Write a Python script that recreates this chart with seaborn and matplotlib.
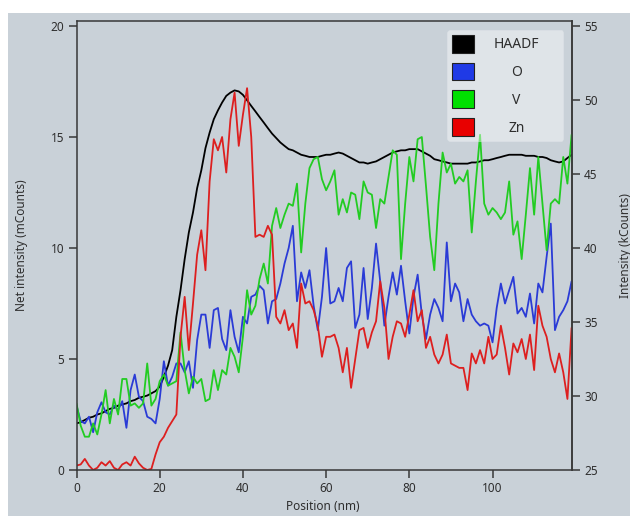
import numpy as np
import pandas as pd
import matplotlib
matplotlib.use("Agg")
import matplotlib.pyplot as plt
from matplotlib.patches import Patch, Rectangle
import seaborn as sns

# ---------------- data ----------------
position_nm = list(range(0, 120))

o_counts = [2.9, 2.2, 2.1, 2.4, 1.7, 2.6, 3.05, 2.6, 2.5, 2.9,
            2.7, 3.1, 1.9, 3.6, 4.3, 3.3, 3.1, 2.4, 2.3, 2.1,
            3.2, 4.9, 3.8, 4.2, 4.8, 4.8, 4.4, 4.9, 3.7, 5.85,
            7.0, 7.0, 5.5, 7.2, 7.3, 5.9, 5.4, 7.2, 6.0, 5.3,
            6.9, 6.6, 7.8, 7.9, 8.3, 8.1, 6.6, 7.6, 7.7, 8.4,
            9.3, 10.0, 11.0, 7.6, 8.9, 8.2, 9.0, 7.4, 6.3, 7.8,
            10.0, 7.5, 7.6, 8.2, 7.6, 9.1, 9.4, 6.4, 7.0, 9.1,
            6.8, 8.2, 10.2, 8.5, 6.5, 7.8, 8.9, 7.9, 9.2, 7.6,
            6.15, 7.8, 8.8, 7.0, 5.9, 7.0, 7.7, 7.3, 6.7, 10.25,
            7.6, 8.4, 8.0, 6.7, 7.7, 7.0, 6.7, 6.5, 6.6, 6.5,
            5.75, 7.3, 8.4, 7.5, 8.1, 8.7, 7.05, 7.3, 6.9, 7.95,
            6.6, 8.4, 8.0, 9.6, 11.1, 6.3, 6.9, 7.2, 7.6, 8.5]

v_counts = [3.0, 2.0, 1.5, 1.5, 2.1, 1.6, 2.5, 3.6, 2.1, 3.2,
            2.5, 4.1, 4.1, 2.9, 3.0, 2.8, 3.0, 4.8, 2.9, 3.2,
            4.0, 4.3, 3.8, 3.9, 4.0, 6.2, 4.5, 3.45, 4.2, 3.9,
            4.1, 3.1, 3.2, 4.5, 3.6, 4.5, 4.3, 5.5, 5.1, 4.4,
            6.0, 8.1, 7.0, 7.4, 8.6, 9.3, 8.4, 11.0, 11.8, 10.9,
            11.5, 12.0, 11.9, 12.9, 9.8, 12.0, 13.6, 14.0, 14.1, 13.1,
            12.6, 13.0, 13.5, 11.5, 12.2, 11.6, 12.5, 12.4, 11.3, 13.0,
            12.5, 12.4, 10.9, 12.2, 12.0, 13.2, 14.4, 14.2, 9.5, 12.0,
            14.1, 13.0, 14.9, 15.0, 12.8, 10.5, 9.0, 12.0, 14.3, 13.4,
            13.8, 12.9, 13.2, 13.0, 13.5, 10.7, 13.0, 15.1, 12.0, 11.5,
            11.8, 11.6, 11.3, 11.6, 13.0, 10.6, 11.2, 9.5, 11.5, 13.6,
            11.5, 14.1, 12.0, 9.9, 12.0, 12.2, 12.0, 14.1, 12.9, 15.1]

zn_counts = [0.2, 0.25, 0.5, 0.2, 0.0, 0.1, 0.35, 0.2, 0.4, 0.1,
             0.0, 0.25, 0.35, 0.2, 0.6, 0.3, 0.1, 0.0, 0.05, 0.7,
             1.25, 1.5, 1.9, 2.2, 2.5, 6.0, 7.8, 5.4, 7.5, 9.7,
             10.8, 9.0, 13.0, 14.9, 14.4, 15.0, 13.4, 15.8, 17.0, 14.6,
             16.0, 17.2, 15.0, 10.5, 10.6, 10.5, 11.0, 10.6, 6.9, 6.6,
             7.2, 6.3, 6.6, 5.5, 8.4, 7.5, 7.6, 7.2, 6.5, 5.1,
             6.0, 6.0, 6.1, 5.5, 4.4, 5.5, 3.7, 5.0, 6.3, 6.4,
             5.5, 6.2, 6.7, 8.5, 7.3, 5.0, 6.0, 6.7, 6.6, 6.0,
             7.0, 8.1, 6.7, 7.2, 5.5, 6.0, 5.2, 4.8, 5.2, 6.1,
             4.8, 4.7, 4.6, 4.6, 3.6, 5.25, 4.8, 5.4, 4.8, 6.0,
             5.0, 5.2, 6.5, 5.5, 4.3, 5.7, 5.3, 5.9, 5.0, 6.1,
             4.5, 7.4, 6.5, 6.0, 5.0, 4.4, 5.25, 4.4, 3.2, 6.4]

haadf_kcounts = [28.15, 28.23, 28.38, 28.53, 28.6, 28.75, 28.83, 28.98, 29.13, 29.2,
                 29.35, 29.43, 29.5, 29.65, 29.73, 29.88, 29.95, 30.03, 30.18, 30.33,
                 30.63, 31.3, 32.05, 33.1, 35.35, 37.15, 39.25, 41.05, 42.4, 44.05,
                 45.25, 46.75, 47.8, 48.7, 49.3, 49.83, 50.28, 50.5, 50.65, 50.58,
                 50.35, 49.98, 49.6, 49.23, 48.85, 48.48, 48.1, 47.73, 47.43, 47.13,
                 46.9, 46.68, 46.6, 46.45, 46.3, 46.23, 46.15, 46.15, 46.15, 46.23,
                 46.3, 46.3, 46.38, 46.45, 46.38, 46.23, 46.08, 45.93, 45.78, 45.78,
                 45.7, 45.78, 45.85, 46.0, 46.15, 46.3, 46.45, 46.53, 46.6, 46.6,
                 46.68, 46.68, 46.68, 46.53, 46.38, 46.23, 46.0, 45.93, 45.85, 45.78,
                 45.7, 45.7, 45.7, 45.7, 45.7, 45.78, 45.78, 45.85, 45.93, 45.93,
                 46.0, 46.08, 46.15, 46.23, 46.3, 46.3, 46.3, 46.3, 46.23, 46.23,
                 46.23, 46.15, 46.15, 46.08, 45.93, 45.85, 45.78, 45.85, 46.08, 46.3]

elements = ["O", "V", "Zn"]
legend_labels = ["HAADF", "O", "V", "Zn"]
x_ticks = [0, 20, 40, 60, 80, 100]
left_ticks = [0, 5, 10, 15, 20]
right_ticks = [25, 30, 35, 40, 45, 50, 55]

# ---------------- style ----------------
sns.set_style("ticks")
plt.rcParams["font.family"] = ["Noto Sans", "DejaVu Sans"]

BG = "#c9d1d8"
AXC = "#383838"
TXT = "#2e2e2e"
colors = {"HAADF": "#000000", "O": "#2a3bd6", "V": "#22cc22", "Zn": "#dd1f1f"}
leg_colors = {"HAADF": "#000000", "O": "#1f3ae6", "V": "#00e000", "Zn": "#e80000"}

W, H = 630, 516
fig = plt.figure(figsize=(W / 100, H / 100), dpi=100, facecolor="white")
fig.patches.append(Rectangle((8 / W, 0), 1, (H - 13) / H, transform=fig.transFigure,
                             facecolor=BG, edgecolor="none", zorder=-10))

ax = fig.add_axes([76.5 / W, 46 / H, 495.5 / W, 449 / H])
ax2 = ax.twinx()
ax.set_zorder(ax2.get_zorder() + 1)
ax.patch.set_visible(False)
ax2.patch.set_visible(False)

df = pd.DataFrame({
    "Position": position_nm * 3,
    "value": o_counts + v_counts + zn_counts,
    "element": sum([[e] * len(position_nm) for e in elements], []),
})
sns.lineplot(data=df, x="Position", y="value", hue="element", hue_order=elements,
             palette=[colors[e] for e in elements], ax=ax, legend=False,
             linewidth=1.3, errorbar=None, sort=False)
sns.lineplot(x=position_nm, y=haadf_kcounts, color=colors["HAADF"], ax=ax2,
             linewidth=1.3, errorbar=None, sort=False)

ax.set_xlim(0, 119.1)
ax.set_ylim(0, 20 * 449 / 444)
ax2.set_ylim(25, 25 + 30 * 449 / 444)
ax.set_xticks(x_ticks)
ax.set_yticks(left_ticks)
ax2.set_yticks(right_ticks)

for a in (ax, ax2):
    for s in a.spines.values():
        s.set_color(AXC)
        s.set_linewidth(1.1)
    a.tick_params(direction="out", length=5.8, width=1.1, color=AXC,
                  labelcolor=TXT, labelsize=8.5, pad=3)
ax2.spines["left"].set_visible(False)
ax2.spines["top"].set_visible(False)
ax2.spines["bottom"].set_visible(False)

ax.set_xlabel("Position (nm)", fontsize=8.5, color=TXT)
ax.set_ylabel("Net intensity (mCounts)", fontsize=8.5, color=TXT)
ax2.set_ylabel("Intensity (kCounts)", fontsize=8.5, color=TXT)
ax.xaxis.label.set_va("center")
ax.xaxis.set_label_coords((323 - 76.5) / 495.5, -(506 - 470) / 449)
ax.yaxis.set_label_coords((22 - 76.5) / 495.5, 0.5)
ax.yaxis.label.set_va("center")
ax2.yaxis.set_label_coords((625 - 76.5) / 495.5, 0.5)
ax2.yaxis.label.set_va("center")

handles = [Patch(facecolor=leg_colors[k], edgecolor="#222222", linewidth=0.8)
           for k in legend_labels]
fs = 10
fs_px = fs * 100 / 72
leg = ax.legend(handles, legend_labels, loc="upper left",
                bbox_to_anchor=((447 - 76.5) / 495.5, (470 - 30) / 449),
                borderaxespad=0, fontsize=fs, handlelength=22 / fs_px,
                handleheight=22 / fs_px, labelspacing=10 / fs_px,
                borderpad=5 / fs_px, handletextpad=2.8, frameon=True,
                framealpha=0.42, facecolor="white", edgecolor="#e4e8ec",
                fancybox=True)
leg.get_frame().set_linewidth(0.6)
for t in leg.get_texts():
    t.set_color(TXT)

fig.canvas.draw()
r = fig.canvas.get_renderer()
lb = leg.get_frame().get_window_extent(r)
for t, h in zip(leg.get_texts(), leg.legend_handles):
    hb = h.get_window_extent(r)
    tb = t.get_window_extent(r)
    target = (hb.x1 + lb.x1 - 5) / 2
    t.set_x(t.get_position()[0] + target - (tb.x0 + tb.x1) / 2)

fig.savefig("out.png", dpi=100, facecolor=fig.get_facecolor())
